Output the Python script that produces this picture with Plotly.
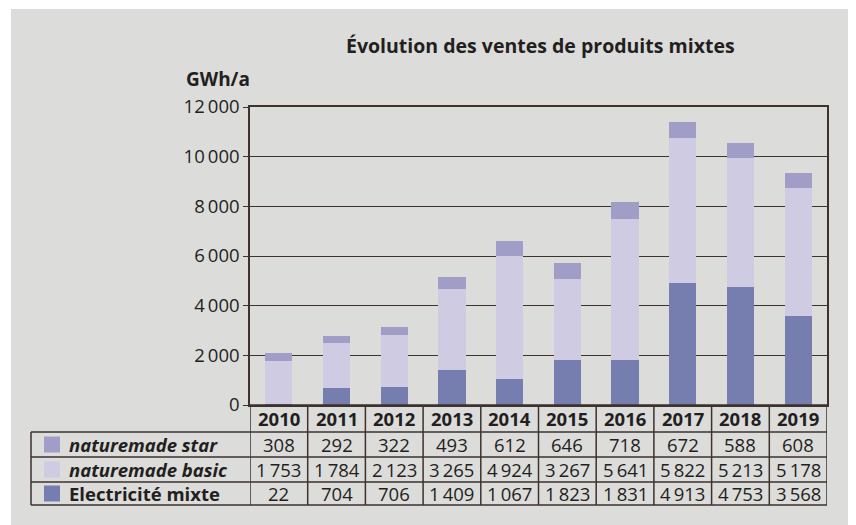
import plotly.graph_objects as go

years = ['2010', '2011', '2012', '2013', '2014', '2015', '2016', '2017', '2018', '2019']
star = [308, 292, 322, 493, 612, 646, 718, 672, 588, 608]
basic = [1753, 1784, 2123, 3265, 4924, 3267, 5641, 5822, 5213, 5178]
mixte = [22, 704, 706, 1409, 1067, 1823, 1831, 4913, 4753, 3568]
series_names = ['naturemade star', 'naturemade basic', 'Electricité mixte']
y_ticks = [0, 2000, 4000, 6000, 8000, 10000, 12000]
title = 'Évolution des ventes de produits mixtes'
unit = 'GWh/a'

C_STAR = '#a09ec6'
C_BASIC = '#cecbe3'
C_MIXTE = '#767eb0'
BG = '#dcdcdb'
LINE = '#3d322c'
TXT = '#231f20'
FONT = 'Open Sans'

# the page body adds an 8px offset; the figure fills the rest of the window
OFF = 8
W, H = 856 - OFF, 525 - OFF
def px(x):
    return (x - OFF) / W
def py(y):
    return 1 - (y - OFF) / H

def fmt(v):
    s = f'{v:,}'
    return s.replace(',', '\u2009')

fig = go.Figure()
bw = 0.47
fig.add_bar(x=years, y=mixte, name=series_names[2], marker_color=C_MIXTE, width=bw, marker_line_width=0)
fig.add_bar(x=years, y=basic, name=series_names[1], marker_color=C_BASIC, width=bw, marker_line_width=0)
fig.add_bar(x=years, y=star, name=series_names[0], marker_color=C_STAR, width=bw, marker_line_width=0)

L, R, T, B = 250, 827, 107, 405
shapes = []
shapes.append(dict(type='rect', xref='paper', yref='paper', x0=px(11), x1=1, y0=0, y1=py(9),
                   fillcolor=BG, line_width=0, layer='below'))

rows_y = [405, 432, 457, 482, 505]
tbl_left = 31
lw = 1.5
for i, yy in enumerate(rows_y):
    x0 = px(L) if i == 0 else px(tbl_left)
    shapes.append(dict(type='line', xref='paper', yref='paper', x0=x0, x1=px(R), y0=py(yy), y1=py(yy),
                       line=dict(color=LINE, width=lw)))
shapes.append(dict(type='line', xref='paper', yref='paper', x0=px(tbl_left), x1=px(tbl_left),
                   y0=py(rows_y[1]), y1=py(rows_y[-1]), line=dict(color=LINE, width=lw)))
for k in range(len(years) + 1):
    shapes.append(dict(type='line', xref='x', yref='paper', x0=k - 0.5, x1=k - 0.5,
                       y0=py(rows_y[0]), y1=py(rows_y[-1]), line=dict(color=LINE, width=lw)))

annotations = []
fs = 18.5
for i, yr in enumerate(years):
    annotations.append(dict(x=i, xref='x', y=py((rows_y[0] + rows_y[1]) / 2), yref='paper',
                            text=f'<b>{yr}</b>', showarrow=False, xanchor='center', yanchor='middle',
                            font=dict(family=FONT, size=fs, color=TXT)))
rows = [(series_names[0], star, C_STAR, True), (series_names[1], basic, C_BASIC, True),
        (series_names[2], mixte, C_MIXTE, False)]
for r, (nm, vals, col, ital) in enumerate(rows):
    yc = (rows_y[r + 1] + rows_y[r + 2]) / 2
    shapes.append(dict(type='rect', xref='paper', yref='paper', x0=px(44), x1=px(60),
                       y0=py(yc + 8), y1=py(yc - 8), fillcolor=col, line_width=0))
    label = f'<b><i>{nm}</i></b>' if ital else f'<b>{nm}</b>'
    annotations.append(dict(x=px(67), xref='paper', y=py(yc), yref='paper', text=label,
                            showarrow=False, xanchor='left', yanchor='middle',
                            font=dict(family=FONT, size=fs, color=TXT)))
    for i, v in enumerate(vals):
        annotations.append(dict(x=i, xref='x', y=py(yc), yref='paper', text=fmt(v),
                                showarrow=False, xanchor='center', yanchor='middle',
                                font=dict(family=FONT, size=fs, color=TXT)))

annotations.append(dict(x=px(540), xref='paper', y=py(45), yref='paper', text=f'<b>{title}</b>',
                        showarrow=False, xanchor='center', yanchor='middle',
                        font=dict(family=FONT, size=19.5, color=TXT)))
annotations.append(dict(x=px(252), xref='paper', y=py(79), yref='paper', text=f'<b>{unit}</b>',
                        showarrow=False, xanchor='right', yanchor='middle',
                        font=dict(family=FONT, size=19, color=TXT)))

fig.update_layout(
    width=W, height=H, margin=dict(l=0, r=0, t=0, b=0, pad=0),
    paper_bgcolor='white', plot_bgcolor='white',
    barmode='stack', showlegend=False,
    shapes=shapes, annotations=annotations,
    xaxis=dict(domain=[px(L), px(R)], range=[-0.5, len(years) - 0.5], showticklabels=False,
               automargin=False,
               showgrid=False, ticks='', showline=True, mirror=True, linecolor=LINE, linewidth=1.5,
               zeroline=False),
    yaxis=dict(domain=[py(B), py(T)], range=[0, 12000], tickvals=y_ticks, automargin=False,
               ticktext=[fmt(v) for v in y_ticks], ticks='outside', ticklen=5, tickcolor=LINE,
               showgrid=True, gridcolor=LINE, gridwidth=1, showline=True, mirror=True,
               linecolor=LINE, linewidth=1.5, zeroline=False,
               tickfont=dict(family=FONT, size=18.5, color=TXT)),
)

fig.write_html('out.html')
